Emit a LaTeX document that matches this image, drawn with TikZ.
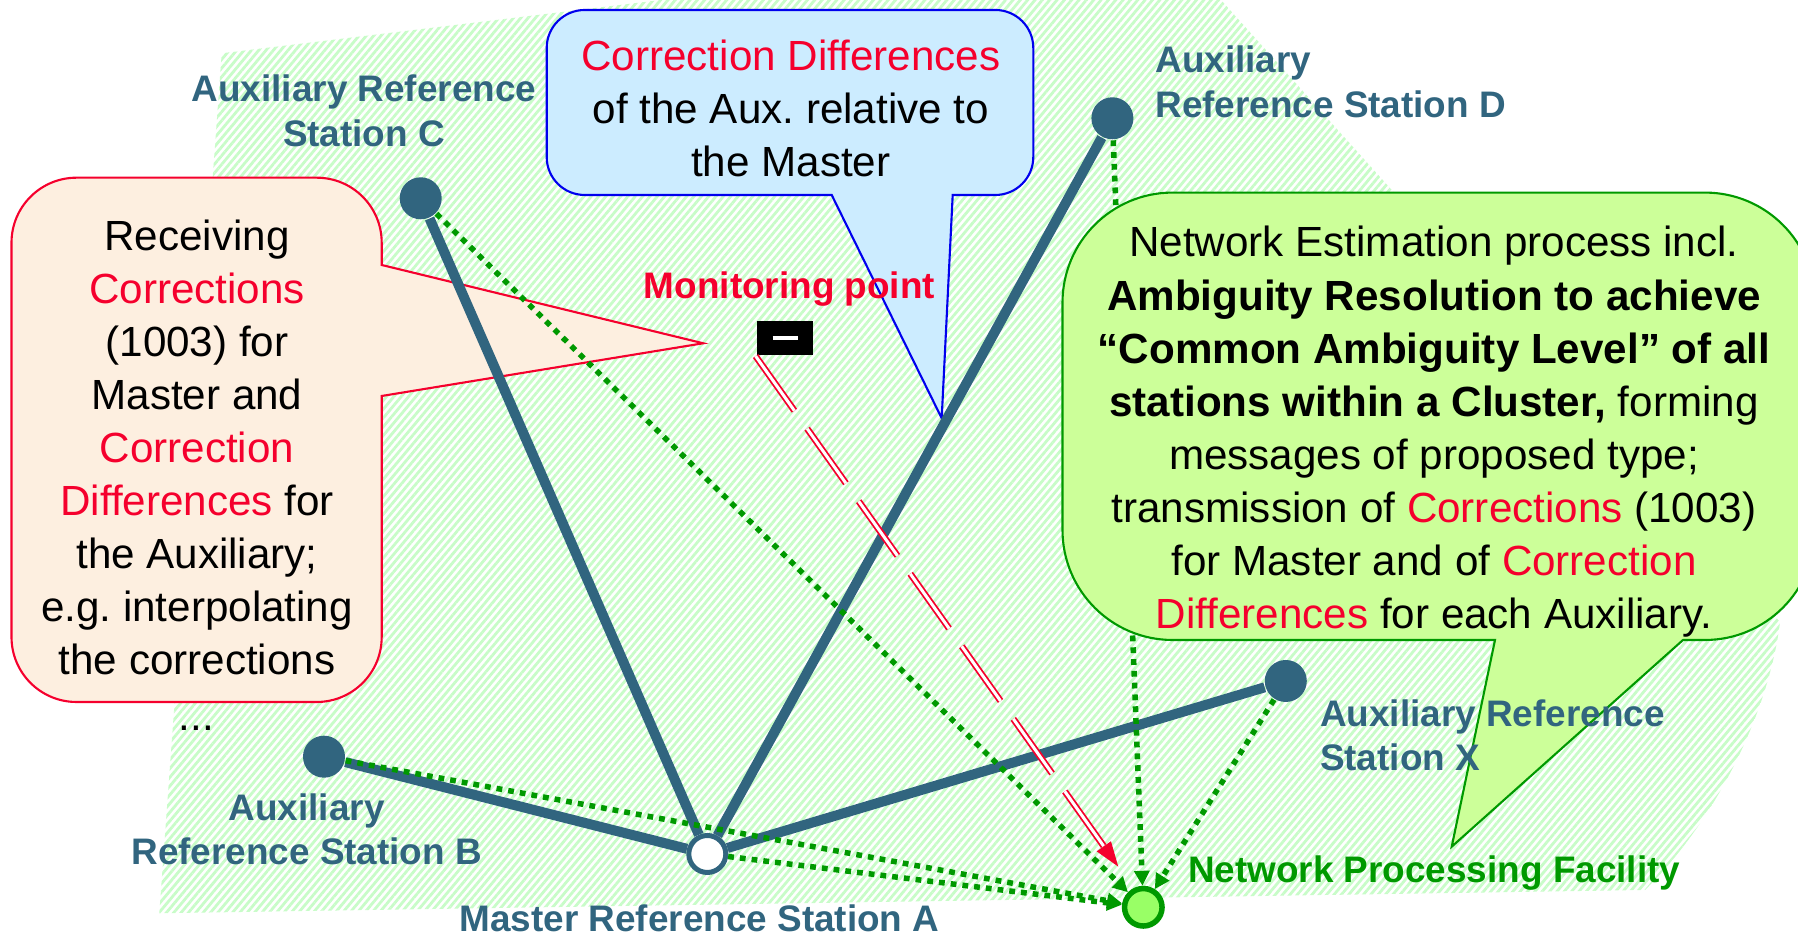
\documentclass[tikz,border=0pt]{standalone}
\usepackage{fontspec}
\setmainfont{Liberation Sans}
\setsansfont{Liberation Sans}
\frenchspacing
\usetikzlibrary{arrows.meta, positioning, patterns.meta}
\definecolor{cteal}{HTML}{31657F}
\definecolor{cred}{HTML}{F5002D}
\definecolor{cgreen}{HTML}{009900}
\definecolor{cblue}{HTML}{0000EE}
\definecolor{cpeach}{HTML}{FDEFE0}
\definecolor{csky}{HTML}{CCECFF}
\definecolor{clime}{HTML}{CCFF99}
\definecolor{cmint}{HTML}{C8FCC8}
\definecolor{cnpf}{HTML}{99FF66}
\newcommand{\hilite}[1]{\textcolor{cred}{#1}}
\tikzset{
  every picture/.style={font=\sffamily, line width=0.6pt},
  station/.style={circle, fill=cteal, minimum size=0.42cm, inner sep=0pt},
  master/.style={circle, draw=cteal, fill=white, line width=0.05cm, minimum size=0.37cm, inner sep=0pt},
  facility/.style={circle, draw=cgreen, fill=cnpf, line width=0.055cm, minimum size=0.375cm, inner sep=0pt},
  monbox/.style={rectangle, fill=black, minimum width=0.567cm, minimum height=0.343cm, inner sep=0pt},
  link/.style={draw=cteal, line width=0.1cm},
  feed/.style={draw=cgreen, line width=0.055cm, dash pattern=on 0.058cm off 0.06cm, -{Triangle[length=0.15cm, width=0.15cm]}},
  watch/.style={draw=cred, double=white, line width=0.018cm, double distance=0.03cm, dash pattern=on 0.67cm off 0.22cm, -{Triangle[length=0.25cm, width=0.17cm]}},
  tag/.style={font=\sffamily\bfseries\fontsize{10.5}{12.7}\selectfont, text=cteal, align=center, inner sep=0pt},
  bubble/.style={font=\sffamily\fontsize{12}{15.1}\selectfont, align=center, inner sep=0pt},
  hatch/.style={pattern={Lines[angle=50, distance=1.6pt, line width=0.8pt]}, pattern color=cmint},
}

\begin{document}
\begin{tikzpicture}
  \useasboundingbox (0,0) rectangle (17.98,9.36);
  \fill[hatch] (2.217,8.827) -- (6.61,9.36) -- (12.21,9.36) -- (17.80,3.14)
    .. controls (17.70,2.3) and (17.2,1.2) .. (16.45,0.46) -- (1.593,0.227) -- cycle;

  % callouts behind the network
  \draw[draw=cred, fill=cpeach]
    (0.115,2.99) -- (0.115,6.933) arc[start angle=180, end angle=90, radius=0.65cm]
    -- (3.167,7.583) arc[start angle=90, end angle=0, radius=0.65cm]
    -- (3.817,6.71) -- (7.032,5.927) -- (3.817,5.40)
    -- (3.817,2.99) arc[start angle=0, end angle=-90, radius=0.65cm]
    -- (0.765,2.34) arc[start angle=270, end angle=180, radius=0.65cm] -- cycle;
  \node[bubble] (recv) at (1.97,4.885) {Receiving\\ \hilite{Corrections}\\ (1003) for\\ Master and\\ \hilite{Correction}\\ \hilite{Differences} for\\ the Auxiliary;\\ e.g. interpolating\\ the corrections};
  \node[bubble, anchor=base] (more) at (1.965,2.05) {...};
  \draw[draw=cblue, fill=csky]
    (5.467,7.79) -- (5.467,8.88) arc[start angle=180, end angle=90, radius=0.38cm]
    -- (9.953,9.26) arc[start angle=90, end angle=0, radius=0.38cm]
    -- (10.333,7.79) arc[start angle=0, end angle=-90, radius=0.38cm]
    -- (9.527,7.41) -- (9.417,5.177) -- (8.317,7.41)
    -- (5.847,7.41) arc[start angle=270, end angle=180, radius=0.38cm] -- cycle;
  \node[bubble] (cdiff) at (7.908,8.276) {\hilite{Correction Differences}\\ of the Aux. relative to\\ the Master};

  % stations
  \node[station] (C) at (4.207,7.377) {};
  \node[station] (D) at (11.124,8.177) {};
  \node[station] (B) at (3.24,1.793) {};
  \node[station] (X) at (12.858,2.55) {};
  \node[master] (A) at (7.073,0.82) {};
  \node[facility] (npf) at (11.433,0.287) {};
  \node[monbox] (mon) at (7.85,5.981) {};
  \coordinate (monend) at (11.183,0.693);

  \foreach \s in {C,D,B,X}
    \draw[link] (A) -- (\s);
  \foreach \s in {C,D,B,X,A}
    \draw[feed] (\s) -- (npf);
  \draw[watch] (mon.south west) -- (monend);
  \draw[white, line width=0.033cm] ([xshift=-0.125cm]mon.center) -- ([xshift=0.125cm]mon.center);

  % network estimation callout
  \draw[draw=cgreen, fill=clime]
    (10.625,4.06) -- (10.625,6.334) arc[start angle=180, end angle=90, radius=1.1cm]
    -- (17.05,7.434) arc[start angle=90, end angle=0, radius=1.1cm]
    -- (18.15,4.06) arc[start angle=0, end angle=-90, radius=1.1cm]
    -- (16.83,2.96) -- (14.517,0.893) -- (14.95,2.96)
    -- (11.725,2.96) arc[start angle=270, end angle=180, radius=1.1cm] -- cycle;
  \node[bubble] (netest) at (14.34,5.042) {Network Estimation process incl.\\
    \textbf{Ambiguity Resolution to achieve}\\
    \textbf{“Common Ambiguity Level” of all}\\
    \textbf{stations within a Cluster,} forming\\
    messages of proposed type;\\
    transmission of \hilite{Corrections} (1003)\\
    for Master and of \hilite{Correction}\\
    \hilite{Differences} for each Auxiliary.};

  % labels
  \node[tag] (labC) at (3.64,8.25) {Auxiliary Reference\\Station C};
  \node[tag, align=left, anchor=west] (labD) at (11.543,8.539) {Auxiliary\\Reference Station D};
  \node[tag] (labB) at (3.067,1.067) {Auxiliary\\Reference Station B};
  \node[tag, align=left, anchor=west] (labX) at (13.19,2.007) {Auxiliary Reference\\Station X};
  \node[tag] (labA) at (6.995,0.172) {Master Reference Station A};
  \node[tag, text=cgreen, anchor=west] (labF) at (11.87,0.626) {Network Processing Facility};
  \node[tag, text=cred] (labM) at (7.895,6.47) {Monitoring point};
\end{tikzpicture}
\end{document}
